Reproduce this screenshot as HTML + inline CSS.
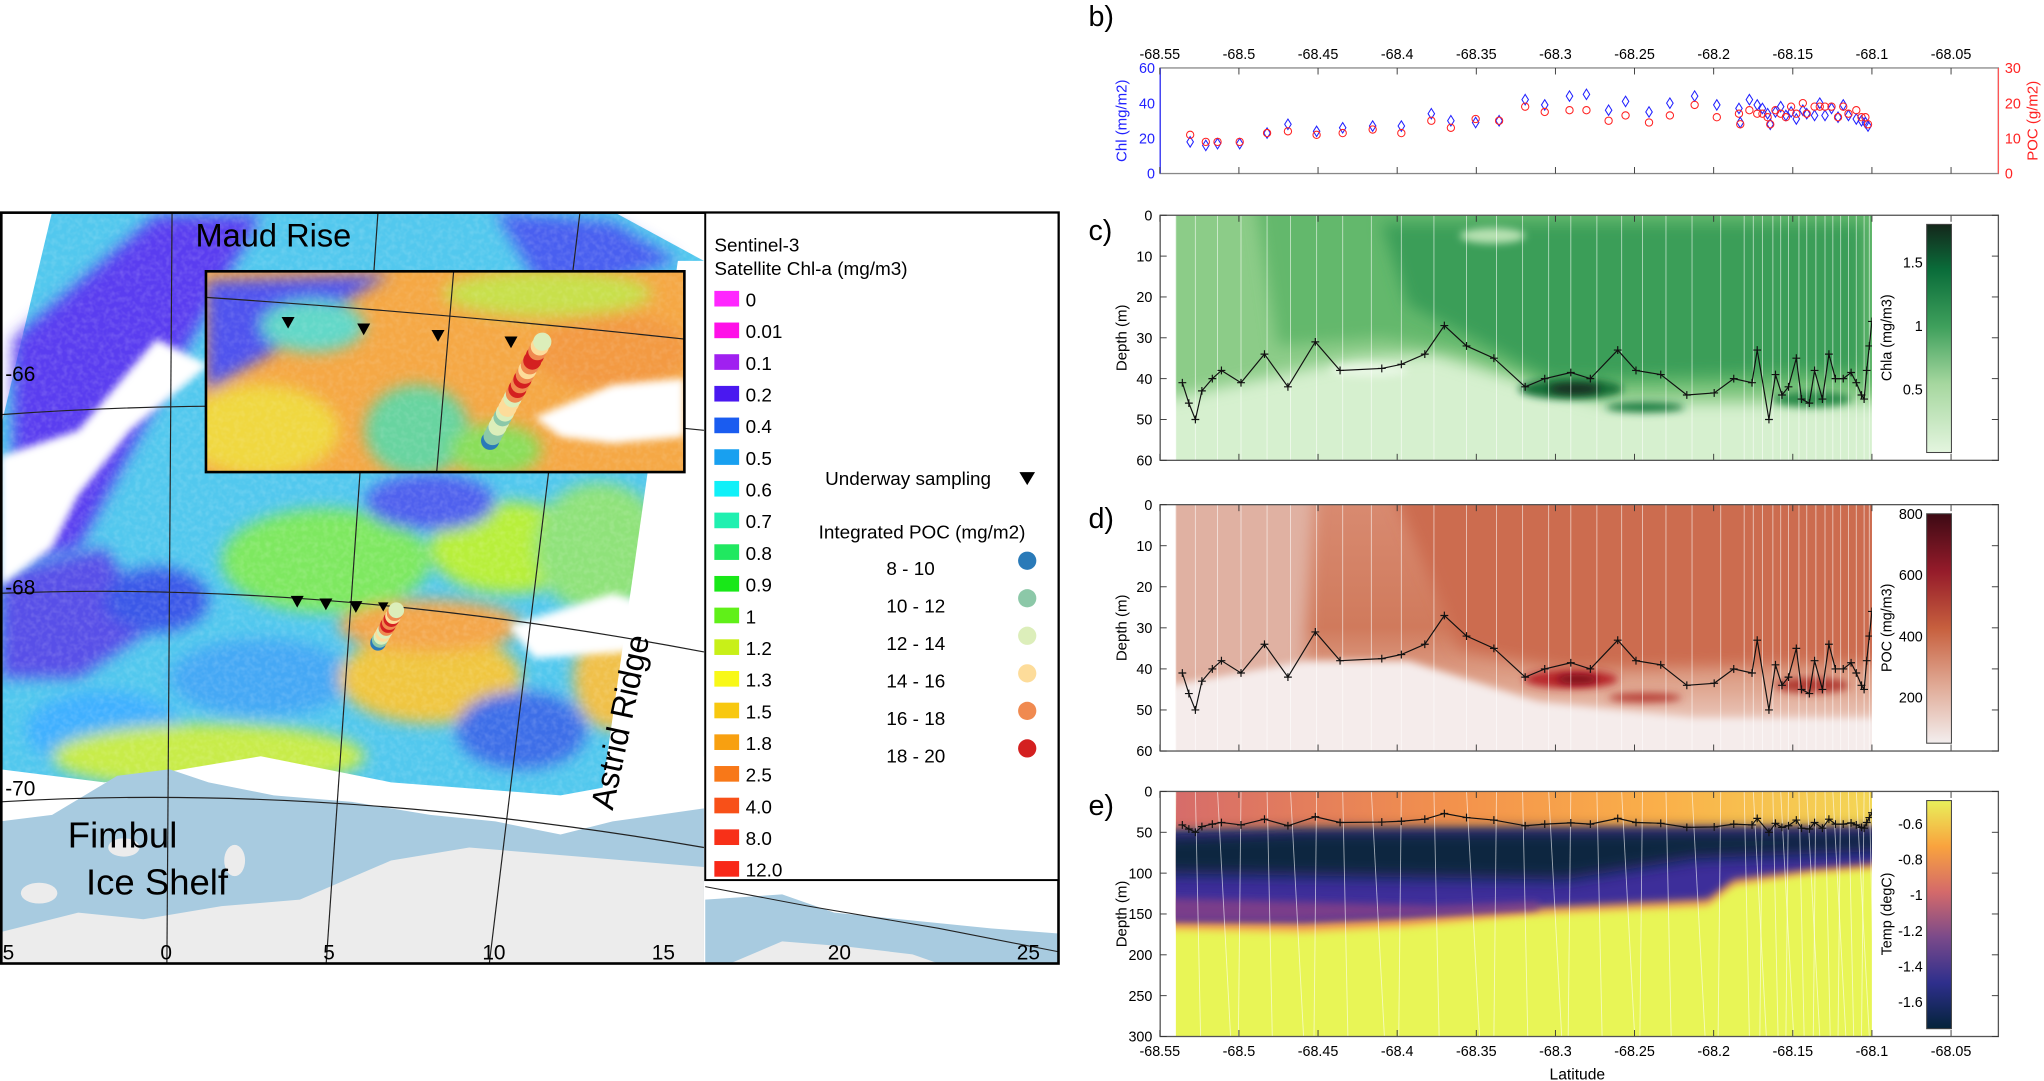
<!DOCTYPE html>
<html><head><meta charset="utf-8"><style>
html,body{margin:0;padding:0;background:#fff;}
svg{display:block;font-family:"Liberation Sans",sans-serif;}
</style></head><body>
<svg id="s" width="2044" height="1081" viewBox="0 0 1568 829" xmlns="http://www.w3.org/2000/svg">
<defs>
<clipPath id="mapclip"><rect x="1" y="163" width="540" height="576"/></clipPath>
<clipPath id="insclip"><rect x="158" y="208" width="367" height="154"/></clipPath>
<clipPath id="cclip"><rect x="902" y="165" width="534" height="188"/></clipPath>
<clipPath id="dclip"><rect x="902" y="387" width="534" height="189"/></clipPath>
<clipPath id="eclip"><rect x="902" y="607" width="534" height="188"/></clipPath>
<filter id="bl" filterUnits="userSpaceOnUse" x="0" y="0" width="1568" height="829"><feGaussianBlur stdDeviation="6"/></filter>
<filter id="bl2" filterUnits="userSpaceOnUse" x="0" y="0" width="1568" height="829"><feGaussianBlur stdDeviation="3"/></filter>
<filter id="noise" filterUnits="userSpaceOnUse" x="0" y="0" width="1568" height="829"><feTurbulence type="fractalNoise" baseFrequency="0.25" numOctaves="2" seed="3"/><feColorMatrix type="matrix" values="0 0 0 0 1  0 0 0 0 1  0 0 0 0 1  0 0 0 -1.6 1.0"/><feComposite in2="SourceGraphic" operator="in"/></filter>
<linearGradient id="cgC" x1="0" y1="1" x2="0" y2="0"><stop offset="0" stop-color="#e4f5df"/><stop offset="0.3" stop-color="#a6d79f"/><stop offset="0.55" stop-color="#3fa05c"/><stop offset="0.8" stop-color="#0a6d3a"/><stop offset="1" stop-color="#14271b"/></linearGradient>
<linearGradient id="cgD" x1="0" y1="1" x2="0" y2="0"><stop offset="0" stop-color="#f3eeee"/><stop offset="0.25" stop-color="#e0aa96"/><stop offset="0.5" stop-color="#c7603e"/><stop offset="0.75" stop-color="#951b2a"/><stop offset="1" stop-color="#3d0a14"/></linearGradient>
<linearGradient id="cgE" x1="0" y1="1" x2="0" y2="0"><stop offset="0" stop-color="#04233a"/><stop offset="0.2" stop-color="#2e2f8c"/><stop offset="0.4" stop-color="#7a4a8a"/><stop offset="0.6" stop-color="#d46a6a"/><stop offset="0.8" stop-color="#f9a33e"/><stop offset="1" stop-color="#e9f05a"/></linearGradient>
<linearGradient id="cTopD" x1="0" y1="0" x2="0" y2="1"><stop offset="0" stop-color="#d88a70"/><stop offset="0.5" stop-color="#d07a5c"/><stop offset="0.75" stop-color="#e0a892"/><stop offset="1" stop-color="#f4e6e4"/></linearGradient>
<linearGradient id="eTop" x1="0" y1="0" x2="1" y2="0"><stop offset="0" stop-color="#d66c6a"/><stop offset="0.4" stop-color="#f3924c"/><stop offset="0.7" stop-color="#fab04a"/><stop offset="1" stop-color="#f3d655"/></linearGradient>
</defs>

<g clip-path="url(#mapclip)">
 <rect x="0" y="162" width="812" height="580" fill="#ffffff"/>
 <path d="M40 162 L470 162 L540 200 L540 580 L480 640 L0 640 L0 330 Z" fill="#52c8ee"/>
 <g filter="url(#bl)">
  <path d="M10 260 L120 165 L200 165 L130 290 L60 420 L10 430 Z" fill="#5a3cf0"/>
  <path d="M380 162 L470 170 L520 200 L420 230 Z" fill="#4a5ef0"/>
  <path d="M0 440 L80 420 L120 480 L60 520 L0 520 Z" fill="#5850e8"/>
  <ellipse cx="80" cy="560" rx="60" ry="30" fill="#3fb0ff"/>
  <ellipse cx="250" cy="430" rx="80" ry="40" fill="#7ee860"/>
  <ellipse cx="390" cy="420" rx="60" ry="35" fill="#b8ef3a"/>
  <ellipse cx="330" cy="385" rx="50" ry="22" fill="#5060ee"/>
  <ellipse cx="200" cy="520" rx="70" ry="30" fill="#45a8f5"/>
  <ellipse cx="330" cy="520" rx="70" ry="35" fill="#f0c640"/>
  <ellipse cx="330" cy="480" rx="70" ry="20" fill="#f4a64a"/>
  <ellipse cx="160" cy="580" rx="120" ry="25" fill="#c8ec4a"/>
  <ellipse cx="400" cy="560" rx="50" ry="30" fill="#3c6ee8"/>
  <ellipse cx="460" cy="420" rx="50" ry="50" fill="#8fe27a"/>
  <ellipse cx="470" cy="520" rx="30" ry="40" fill="#f0c048"/>
  <ellipse cx="120" cy="460" rx="40" ry="25" fill="#3a58e8"/>
 </g>
 <rect x="0" y="162" width="540" height="480" fill="#000" filter="url(#noise)" opacity="0.18"/>
 <path d="M0 350 L60 330 L120 260 L160 280 L100 330 L60 380 L40 420 L0 450 Z" fill="#fff" filter="url(#bl2)"/>
 <path d="M0 162 L40 162 L20 230 L0 250Z" fill="#fff"/>
 <path d="M390 480 L470 455 L520 470 L480 500 L410 505 Z" fill="#fff" filter="url(#bl2)"/>
 <path d="M0 590 L80 600 L200 580 L300 600 L430 610 L540 590 L540 742 L0 742 Z" fill="#fff"/>
 <path d="M470 580 L540 480 L540 610 L460 620 Z" fill="#fff"/>
 <path d="M520 200 L540 200 L540 480 L480 620 L460 620 Z" fill="#fff"/>
 <path d="M0 630 L40 625 L90 595 L130 590 L160 600 L210 610 L270 615 L330 625 L380 630 L430 640 L470 630 L540 620 L540 742 L0 742 Z" fill="#a8cbe0"/>
 <path d="M0 715 L60 700 L110 705 L170 695 L230 690 L300 660 L360 650 L420 655 L480 660 L540 665 L540 742 L0 742 Z" fill="#ececec"/>
 <ellipse cx="95" cy="650" rx="12" ry="7" fill="#ececec"/>
 <ellipse cx="30" cy="685" rx="14" ry="8" fill="#ececec"/>
 <ellipse cx="180" cy="660" rx="8" ry="12" fill="#ececec"/>
 <g stroke="#222" stroke-width="0.9" fill="none">
  <path d="M0 318 Q250 300 540 330"/>
  <path d="M0 455 Q250 445 540 500"/>
  <path d="M0 615 Q250 600 540 650"/>
  <path d="M132 162 L128 742"/>
  <path d="M290 162 L250 742"/>
  <path d="M445 162 L375 742"/>
 </g>
 <g clip-path="url(#insclip)">
  <rect x="158" y="208" width="367" height="154" fill="#f5a845"/>
  <g filter="url(#bl)">
   <path d="M158 215 L300 210 L250 240 L210 270 L175 290 L158 300 Z" fill="#4f52ee"/>
   <ellipse cx="200" cy="330" rx="60" ry="35" fill="#f0d840"/>
   <ellipse cx="240" cy="250" rx="40" ry="20" fill="#62d8c8"/>
   <ellipse cx="320" cy="330" rx="40" ry="35" fill="#68d4a0"/>
   <ellipse cx="380" cy="345" rx="35" ry="20" fill="#8ade5a"/>
   <ellipse cx="420" cy="225" rx="80" ry="18" fill="#c8e04c"/>
   <ellipse cx="470" cy="270" rx="60" ry="30" fill="#f39a42"/>
  </g>
  <rect x="158" y="208" width="367" height="154" fill="#000" filter="url(#noise)" opacity="0.15"/>
  <path d="M410 320 L470 295 L525 290 L525 335 L470 340 L430 335 Z" fill="#fff" filter="url(#bl2)"/>
  <path d="M158 228 Q340 240 525 260" stroke="#222" stroke-width="0.9" fill="none"/>
  <path d="M348 208 L335 362" stroke="#222" stroke-width="0.9"/>
 </g>
 <rect x="158" y="208" width="367" height="154" fill="none" stroke="#000" stroke-width="2"/>
 <g fill="#000">
  <path d="M216 243 L226 243 L221 252Z"/><path d="M274 248 L284 248 L279 257Z"/>
  <path d="M331 253 L341 253 L336 262Z"/><path d="M387 258 L397 258 L392 267Z"/>
  <path d="M223 457 L233 457 L228 466Z"/><path d="M245 459 L255 459 L250 468Z"/>
  <path d="M268 461 L278 461 L273 470Z"/><path d="M290 462 L298 462 L294 469Z"/>
 </g>
 <g id="dots1"></g>
 <g id="dots2"></g>
 <text x="150" y="189" font-size="25" fill="#000">Maud Rise</text>
 <text x="52" y="650" font-size="28" fill="#000">Fimbul</text>
 <text x="66" y="686" font-size="28" fill="#000">Ice Shelf</text>
 <text transform="translate(470,622) rotate(-78)" font-size="25" fill="#000">Astrid Ridge</text>
 <g font-size="16" fill="#000">
  <text x="4" y="292">-66</text><text x="4" y="456">-68</text><text x="4" y="610">-70</text>
  <text x="2" y="736">5</text><text x="123" y="736">0</text><text x="248" y="736">5</text>
  <text x="370" y="736">10</text><text x="500" y="736">15</text>
 </g>
</g>
<rect x="541" y="675" width="271" height="64" fill="#fff"/>
<path d="M541 690 L600 686 L640 700 L700 706 L760 712 L812 716 L812 739 L541 739Z" fill="#a8cbe0"/>
<path d="M560 739 L600 722 L650 726 L700 732 L720 739Z" fill="#ececec"/>
<path d="M541 680 L620 695 L720 712 L812 730" stroke="#222" stroke-width="0.8" fill="none"/>
<text x="635" y="736" font-size="16">20</text><text x="780" y="736" font-size="16">25</text>
<rect x="1" y="163" width="811" height="576" fill="none" stroke="#000" stroke-width="2"/>
<rect x="541" y="163" width="271" height="512" fill="#fff" stroke="#000" stroke-width="1.5"/>
<text x="548" y="193" font-size="14.5">Sentinel-3</text>
<text x="548" y="211" font-size="14.5">Satellite Chl-a (mg/m3)</text>
<g id="leg"></g>
<text x="633" y="372" font-size="14.5">Underway sampling</text>
<path d="M782 362 L794 362 L788 372Z" fill="#000"/>
<text x="628" y="413" font-size="14.5">Integrated POC (mg/m2)</text>
<g id="leg2" font-size="14.5"></g>

<g font-size="22"><text x="835" y="20">b)</text><text x="835" y="184">c)</text><text x="835" y="405">d)</text><text x="835" y="625">e)</text></g>
<g id="panels"></g>
</svg>
<script>
const NS="http://www.w3.org/2000/svg",S=document.getElementById('s');
function el(t,a,p){const e=document.createElementNS(NS,t);for(const k in a)e.setAttribute(k,a[k]);(p||S).appendChild(e);return e;}
function tx(x,y,s,a,p){const e=el('text',Object.assign({x:x,y:y},a),p);e.textContent=s;return e;}
const L=document.getElementById('leg');
const lc=[["#ff26ff","0"],["#ff10e8","0.01"],["#a020f0","0.1"],["#4a18f0","0.2"],["#1a5cf0","0.4"],["#18a0f0","0.5"],["#10f0f8","0.6"],["#20f0b0","0.7"],["#20e860","0.8"],["#18e818","0.9"],["#60f018","1"],["#c8f018","1.2"],["#f8f818","1.3"],["#f8c810","1.5"],["#f8a010","1.8"],["#f87818","2.5"],["#f85018","4.0"],["#f83018","8.0"],["#f82818","12.0"]];
lc.forEach((c,i)=>{const y=229+i*24.3;el('rect',{x:548,y:y-6,width:19,height:12,fill:c[0]},L);tx(572,y+6,c[1],{'font-size':14.5},L);});
const L2=document.getElementById('leg2');
const pc=["#2a7ab8","#8cc8a8","#dceeba","#fddc9a","#f08a50","#d42020"];
["8 - 10","10 - 12","12 - 14","14 - 16","16 - 18","18 - 20"].forEach((s,i)=>{const y=436+i*28.8;tx(680,y+5,s,{},L2);el('circle',{cx:788,cy:y-6,r:7,fill:pc[i]},L2);});
function dots(g,x0,y0,x1,y1,n,r,seq){const G=document.getElementById(g);for(let i=0;i<n;i++){const t=i/(n-1);el('circle',{cx:x0+(x1-x0)*t,cy:y0+(y1-y0)*t,r:r,fill:pc[seq[i%seq.length]]},G);}}
const sq=[0,1,1,2,2,1,2,3,3,2,4,5,4,5,4,3,4,5,5,4,3,2];
dots('dots1',376,338,416,262,22,7,sq);
dots('dots2',290,493,304,468,12,6,[0,1,2,3,2,4,5,4,5,3,4,2]);

const P=document.getElementById('panels');
const X0=890,X1=1533;function lx(l){return 1436+(l+68.1)/0.05*60.7;}
const dx0=lx(-68.54),dx1=1436;
const line=[[907,41],[912,46],[917,50],[922,43],[930,40],[937,38],[952,41],[970,34],[988,42],[1009,31],[1028,38],[1060,37.5],[1075,36.5],[1093,34],[1108,27],[1125,32],[1146,35],[1170,42],[1185,40],[1205,38.5],[1220,40],[1241,33],[1255,38],[1274,39],[1294,44],[1315,43.5],[1330,40],[1344,41],[1348,33],[1357,50],[1362,39],[1367,44],[1372,42],[1378,35],[1382,45],[1388,46],[1392,38],[1398,45],[1403,34],[1408,40],[1414,40],[1420,38.5],[1424,41],[1428,44],[1430,45],[1432,38],[1434,32],[1436,26]];
function drawLine(y0,sc,g){el('polyline',{points:line.map(p=>p[0]+','+(y0+p[1]*sc)).join(' '),fill:'none',stroke:'#111','stroke-width':0.9},g);
 line.forEach(p=>{const y=y0+p[1]*sc;el('path',{d:`M${p[0]-3} ${y}h6M${p[0]} ${y-3}v6`,stroke:'#111','stroke-width':0.9},g);});}
const lats=[-68.55,-68.5,-68.45,-68.4,-68.35,-68.3,-68.25,-68.2,-68.15,-68.1,-68.05];
function xticks(y0,y1,g,labels,ly){lats.forEach(l=>{const x=lx(l);el('line',{x1:x,y1:y1,x2:x,y2:y1-5,stroke:'#333','stroke-width':0.7},g);el('line',{x1:x,y1:y0,x2:x,y2:y0+5,stroke:'#333','stroke-width':0.7},g);if(labels)tx(x,ly,String(l),{'font-size':11,'text-anchor':'middle'},g);});}
function vlines(y0,y1,g,slant){const xs=[902,917,934,952,972,990,1010,1030,1052,1075,1100,1125,1148,1168,1188,1205,1225,1244,1260,1278,1298,1320,1338,1345,1352,1360,1366,1372,1380,1386,1393,1400,1406,1412,1418,1424,1430,1434];xs.forEach((x,i)=>el('line',{x1:x,y1:y0,x2:x+(slant?(i%3-1)*6+4:0),y2:y1,stroke:'#fff','stroke-width':0.7,opacity:0.6},g));}
function yaxis(y0,y1,vals,max,g,lab,cbg,cbvals,cbmin,cbmax,cblab){
 el('rect',{x:X0,y:y0,width:X1-X0,height:y1-y0,fill:'none',stroke:'#555','stroke-width':1},g);
 vals.forEach(v=>{const y=y0+(y1-y0)*v/max;tx(X0-6,y+4,String(v),{'font-size':11,'text-anchor':'end'},g);el('line',{x1:X0,y1:y,x2:X0+5,y2:y,stroke:'#333','stroke-width':0.7},g);el('line',{x1:X1,y1:y,x2:X1-5,y2:y,stroke:'#333','stroke-width':0.7},g);});
 tx(0,0,lab,{'font-size':11.5,transform:`translate(864,${(y0+y1)/2}) rotate(-90)`,'text-anchor':'middle'},g);
 const cy0=y0+7,cy1=y1-6;el('rect',{x:1478,y:cy0,width:19,height:cy1-cy0,fill:`url(#${cbg})`,stroke:'#444','stroke-width':0.8},g);
 cbvals.forEach(v=>{const y=cy1-(v-cbmin)/(cbmax-cbmin)*(cy1-cy0);tx(1475,y+4,String(v),{'font-size':11,'text-anchor':'end'},g);});
 tx(0,0,cblab,{'font-size':11,transform:`translate(1451,${(y0+y1)/2}) rotate(-90)`,'text-anchor':'middle'},g);}

const Bt=52,Bb=133;
el('rect',{x:X0,y:Bt,width:X1-X0,height:Bb-Bt,fill:'none',stroke:'#888','stroke-width':1},P);
el('line',{x1:X0,y1:Bt,x2:X0,y2:Bb,stroke:'#33f'},P);el('line',{x1:X1,y1:Bt,x2:X1,y2:Bb,stroke:'#f55'},P);
xticks(Bt,Bb,P,true,45);
[0,20,40,60].forEach(v=>{const y=Bb-(Bb-Bt)*v/60;tx(X0-4,y+4,String(v),{'font-size':11,'text-anchor':'end',fill:'#22f'},P);});
[0,10,20,30].forEach(v=>{const y=Bb-(Bb-Bt)*v/30;tx(X1+5,y+4,String(v),{'font-size':11,fill:'#f22'},P);});
tx(0,0,'Chl (mg/m2)',{'font-size':11.5,fill:'#22f',transform:`translate(864,${(Bt+Bb)/2}) rotate(-90)`,'text-anchor':'middle'},P);
tx(0,0,'POC (g/m2)',{'font-size':11.5,fill:'#f22',transform:`translate(1563,${(Bt+Bb)/2}) rotate(-90)`,'text-anchor':'middle'},P);
const bd=[[913,18,11],[925,16,9],[934,17,9],[951,17,9],[972,23,11.5],[988,28,12],[1010,24,11],[1030,26,11.5],[1053,27,12.5],[1075,27,11.5],[1098,34,15],[1113,30,13],[1132,29,15.5],[1150,30,15],[1170,42,19],[1185,39,17.5],[1204,44,18],[1217,45,18],[1234,36,15],[1247,41,16.5],[1265,35,14.5],[1281,40,16.5],[1300,44,19.5],[1317,39,16],[1334,37,17],[1335,29,14],[1342,42,18],[1348,39,17],[1352,37,17],[1356,34,16],[1358,28,14],[1362,35,18],[1366,38,17],[1370,33,16],[1374,35,19],[1378,31,17],[1383,36,20],[1386,34,17],[1392,33,19],[1396,40,19],[1400,33,19],[1405,37,19],[1410,32,16],[1414,39,19],[1418,33,17],[1424,31,18],[1428,30,16],[1431,29,16],[1433,27,14]];
bd.forEach(d=>{const yc=Bb-(Bb-Bt)*d[1]/60,yp=Bb-(Bb-Bt)*d[2]/30;el('path',{d:`M${d[0]} ${yc-4}L${d[0]+2.5} ${yc}L${d[0]} ${yc+4}L${d[0]-2.5} ${yc}Z`,fill:'none',stroke:'#22f','stroke-width':0.8},P);el('circle',{cx:d[0],cy:yp,r:2.8,fill:'none',stroke:'#f22','stroke-width':0.8},P);});

const Ct=165,Cb=353,cs=(Cb-Ct)/60;
const gc=el('g',{'clip-path':'url(#cclip)'},P);
el('rect',{x:dx0,y:Ct,width:dx1-dx0,height:Cb-Ct,fill:'#d6f0cf'},gc);
el('path',{d:`M880 ${Ct-30} L1460 ${Ct-30} L1460 ${Ct+46*cs} L1230 ${Ct+46*cs} L1160 ${Ct+40*cs} L1100 ${Ct+34*cs} L1040 ${Ct+35*cs} L880 ${Ct+46*cs}Z`,fill:'#8ccc88',filter:'url(#bl)'},gc);
el('path',{d:`M960 ${Ct-30} L1460 ${Ct-30} L1460 ${Ct+42*cs} L1200 ${Ct+42*cs} L1120 ${Ct+33*cs} L1060 ${Ct+30*cs} L980 ${Ct+32*cs}Z`,fill:'#64b86c',filter:'url(#bl)'},gc);
el('path',{d:`M1060 ${Ct+2*cs} L1430 ${Ct+2*cs} L1430 ${Ct+38*cs} L1190 ${Ct+40*cs} L1130 ${Ct+30*cs} L1080 ${Ct+22*cs}Z`,fill:'#3a9e58',filter:'url(#bl)'},gc);
el('ellipse',{cx:1205,cy:Ct+42.5*cs,rx:40,ry:8,fill:'#137038',filter:'url(#bl2)'},gc);
el('ellipse',{cx:1208,cy:Ct+42.5*cs,rx:20,ry:4,fill:'#1a2a20',filter:'url(#bl2)'},gc);
el('ellipse',{cx:1262,cy:Ct+47*cs,rx:30,ry:4,fill:'#1f7d40',filter:'url(#bl2)'},gc);
el('ellipse',{cx:1390,cy:Ct+45*cs,rx:30,ry:6,fill:'#2a8a48',filter:'url(#bl2)'},gc);
el('ellipse',{cx:1145,cy:Ct+5*cs,rx:25,ry:6,fill:'#b8e2b2',filter:'url(#bl2)'},gc);
el('ellipse',{cx:1050,cy:Ct+38*cs,rx:30,ry:5,fill:'#e8f7e4',filter:'url(#bl2)'},gc);
vlines(Ct,Cb,gc,false);drawLine(Ct,cs,gc);
xticks(Ct,Cb,P,false);
yaxis(Ct,Cb,[0,10,20,30,40,50,60],60,P,'Depth (m)','cgC',[0.5,1,1.5],0,1.8,'Chla (mg/m3)');

const Dt=387,Db=576,ds=(Db-Dt)/60;
const gd=el('g',{'clip-path':'url(#dclip)'},P);
el('rect',{x:dx0,y:Dt,width:dx1-dx0,height:Db-Dt,fill:'url(#cTopD)'},gd);
el('path',{d:`M880 ${Dt-30} L1010 ${Dt-30} L1000 ${Dt+40*ds} L880 ${Dt+45*ds}Z`,fill:'#e0b1a2',filter:'url(#bl)'},gd);
el('path',{d:`M1060 ${Dt-30} L1460 ${Dt-30} L1460 ${Dt+38*ds} L1200 ${Dt+40*ds} L1120 ${Dt+35*ds}Z`,fill:'#cc6c50',filter:'url(#bl)'},gd);
el('path',{d:`M880 ${Dt+45*ds} L1000 ${Dt+38*ds} L1080 ${Dt+38*ds} L1180 ${Dt+48*ds} L1300 ${Dt+52*ds} L1460 ${Dt+52*ds} L1460 ${Db+20} L880 ${Db+20}Z`,fill:'#f5eceb',filter:'url(#bl2)'},gd);
el('ellipse',{cx:1205,cy:Dt+42.5*ds,rx:36,ry:7,fill:'#b8282c',filter:'url(#bl2)'},gd);
el('ellipse',{cx:1210,cy:Dt+42.5*ds,rx:16,ry:3.5,fill:'#7a0c1e',filter:'url(#bl2)'},gd);
el('ellipse',{cx:1262,cy:Dt+47*ds,rx:28,ry:3.5,fill:'#b63a30',filter:'url(#bl2)'},gd);
el('ellipse',{cx:1390,cy:Dt+44*ds,rx:28,ry:6,fill:'#b03a30',filter:'url(#bl2)'},gd);
vlines(Dt,Db,gd,false);drawLine(Dt,ds,gd);
xticks(Dt,Db,P,false);
yaxis(Dt,Db,[0,10,20,30,40,50,60],60,P,'Depth (m)','cgD',[200,400,600,800],50,800,'POC (mg/m3)');

const Et=607,Eb=795,es=(Eb-Et)/300;
const ge=el('g',{'clip-path':'url(#eclip)'},P);
el('rect',{x:dx0,y:Et,width:dx1-dx0,height:Eb-Et,fill:'#e8f556'},ge);
el('rect',{x:dx0,y:Et,width:dx1-dx0,height:48*es,fill:'url(#eTop)'},ge);
el('path',{d:`M880 ${Et+45*es} L1460 ${Et+42*es} L1460 ${Et+92*es} L1390 ${Et+100*es} L1330 ${Et+115*es} L1310 ${Et+140*es} L1180 ${Et+150*es} L1080 ${Et+165*es} L1000 ${Et+172*es} L880 ${Et+168*es}Z`,fill:'#f7a04e',filter:'url(#bl2)'},ge);
el('path',{d:`M880 ${Et+47*es} L1460 ${Et+44*es} L1460 ${Et+85*es} L1390 ${Et+95*es} L1330 ${Et+108*es} L1310 ${Et+132*es} L1180 ${Et+142*es} L1080 ${Et+154*es} L1000 ${Et+160*es} L880 ${Et+158*es}Z`,fill:'#3d2f9a',filter:'url(#bl2)'},ge);
el('path',{d:`M880 ${Et+130*es} L1000 ${Et+135*es} L1100 ${Et+140*es} L1180 ${Et+135*es} L1180 ${Et+145*es} L1000 ${Et+158*es} L880 ${Et+158*es}Z`,fill:'#7a3d8a',filter:'url(#bl2)'},ge);
el('path',{d:`M880 ${Et+55*es} L1000 ${Et+48*es} L1460 ${Et+48*es} L1460 ${Et+72*es} L1300 ${Et+82*es} L1200 ${Et+108*es} L1080 ${Et+105*es} L880 ${Et+100*es}Z`,fill:'#0b2540',filter:'url(#bl)'},ge);
vlines(Et,Eb,ge,true);drawLine(Et,es,ge);
xticks(Et,Eb,P,true,810);
yaxis(Et,Eb,[0,50,100,150,200,250,300],300,P,'Depth (m)','cgE',[-0.6,-0.8,-1,-1.2,-1.4,-1.6],-1.75,-0.47,'Temp (degC)');
tx(1210,828,'Latitude',{'font-size':12,'text-anchor':'middle'},P);
</script>
</body></html>
